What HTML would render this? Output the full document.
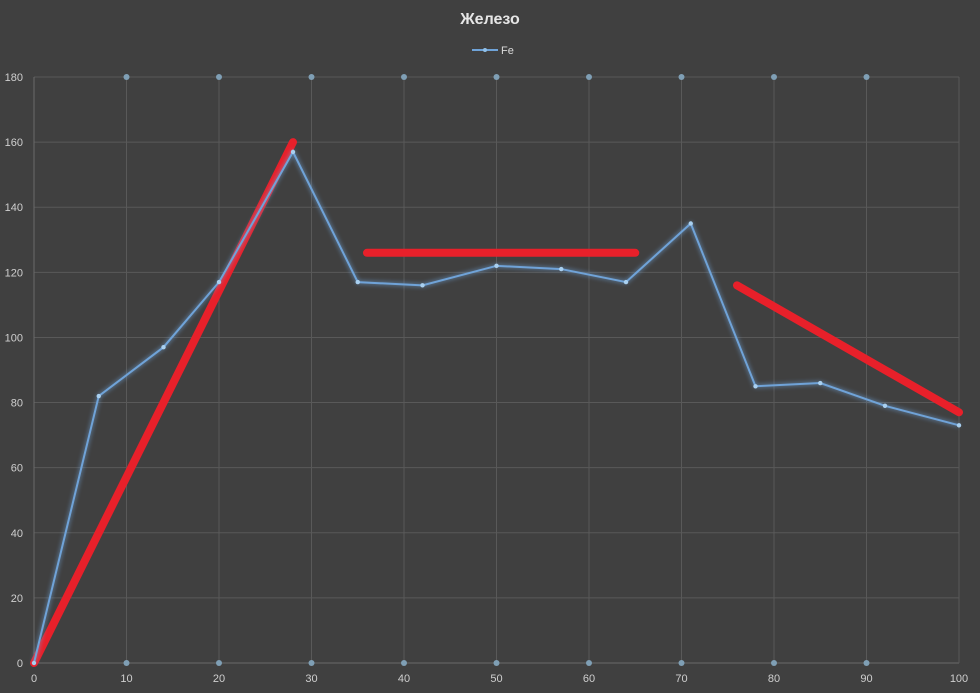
<!DOCTYPE html>
<html><head><meta charset="utf-8"><style>
html,body{margin:0;padding:0;background:#404040;}
svg{display:block;font-family:"Liberation Sans","DejaVu Sans",sans-serif;}
</style></head><body>
<svg id="chart" width="980" height="693" viewBox="0 0 980 693" xmlns="http://www.w3.org/2000/svg">
<defs><filter id="glow" x="-20%" y="-20%" width="140%" height="140%"><feGaussianBlur stdDeviation="2.5" result="b"/><feMerge><feMergeNode in="b"/><feMergeNode in="SourceGraphic"/></feMerge></filter></defs>
<rect width="980" height="693" fill="#404040"/>
<text x="490" y="24" text-anchor="middle" fill="#e6e6e6" font-size="16" font-weight="bold">Железо</text>
<g>
<line x1="472" y1="50" x2="498" y2="50" stroke="#6fa3d8" stroke-width="2"/>
<circle cx="485" cy="50" r="2" fill="#8fbfe8"/>
<text x="501" y="54" fill="#d9d9d9" font-size="11">Fe</text>
</g>
<g id="grid"></g><g id="ticks"></g><g id="annot"></g><g id="series"></g>
</svg>
<script>
const xVals = [0, 7, 14, 20, 28, 35, 42, 50, 57, 64, 71, 78, 85, 92, 100];
const feVals = [0, 82, 97, 117, 157, 117, 116, 122, 121, 117, 135, 85, 86, 79, 73];
const xTicks = [0,10,20,30,40,50,60,70,80,90,100];
const yTicks = [0,20,40,60,80,100,120,140,160,180];
const annotLines = [[[0,0],[28,160]],[[36,126],[65,126]],[[76,116],[100,77]]];
const X0=34,X1=959,Y0=663,Y1=77;
const sx=v=>X0+(v-0)/100*(X1-X0);
const sy=v=>Y0-(v-0)/180*(Y0-Y1);
const NS='http://www.w3.org/2000/svg';
function mk(tag,parent,attrs){const e=document.createElementNS(NS,tag);for(const k in attrs)e.setAttribute(k,attrs[k]);parent.appendChild(e);return e;}
const grid=document.getElementById('grid'),ticks=document.getElementById('ticks');
yTicks.forEach(t=>{const l=mk('line',grid,{x1:X0,x2:X1,y1:sy(t),y2:sy(t),stroke:t===0?'#6a6a6a':'#595959','stroke-width':1});


const tx=mk('text',ticks,{x:23,y:sy(t)+4,'text-anchor':'end',fill:'#cfcfcf','font-size':11});tx.textContent=t;

});
xTicks.forEach(t=>{const l=mk('line',grid,{x1:sx(t),x2:sx(t),y1:Y1,y2:Y0,stroke:t===0?'#6a6a6a':'#595959','stroke-width':1});


if(t>0&&t<100){[Y1,Y0].forEach(y=>{const c=mk('circle',grid,{cx:sx(t),cy:y,r:3,fill:'#7f9fb5'});

});}
const tx=mk('text',ticks,{x:sx(t),y:682,'text-anchor':'middle',fill:'#cfcfcf','font-size':11});tx.textContent=t;

});
const ser=document.getElementById('series');
const pts=xVals.map((x,i)=>sx(x)+','+sy(feVals[i])).join(' ');
const pl=mk('polyline',ser,{points:pts,fill:'none',stroke:'#6fa3d8','stroke-width':2,filter:'url(#glow)'});


xVals.forEach((x,i)=>{const c=mk('circle',ser,{cx:sx(x),cy:sy(feVals[i]),r:2.2,fill:'#a9d0f0'});

});
const an=document.getElementById('annot');
annotLines.forEach(s=>{const l=mk('line',an,{x1:sx(s[0][0]),y1:sy(s[0][1]),x2:sx(s[1][0]),y2:sy(s[1][1]),stroke:'#e8202a','stroke-width':8,'stroke-linecap':'round'});

});
</script>
</body></html>
